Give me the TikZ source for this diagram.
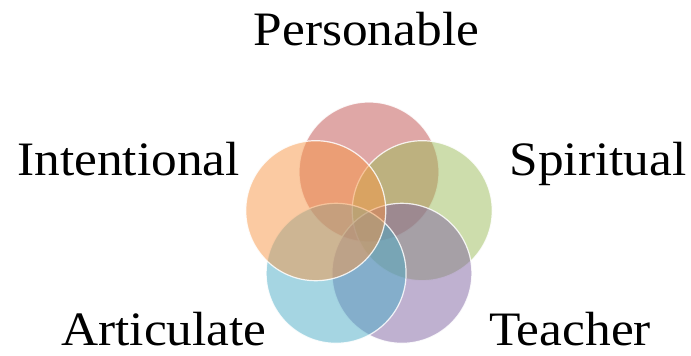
\documentclass[tikz,border=0pt]{standalone}
\usepackage{fontspec}
\setmainfont[FakeStretch=1.07]{Liberation Serif}
\definecolor{vennred}{HTML}{C0504D}
\definecolor{venngreen}{HTML}{9BBB59}
\definecolor{vennpurple}{HTML}{8064A2}
\definecolor{vennblue}{HTML}{4BACC6}
\definecolor{vennorange}{HTML}{F79646}
\tikzset{
  venn/.style={circle, minimum size=140pt, inner sep=0pt, fill=#1,
    fill opacity=.5, draw=white, draw opacity=.85, line width=1.2pt},
  vennlabel/.style={anchor=base, inner sep=0pt, text depth=0pt,
    font=\fontsize{48}{58}\selectfont}
}
\begin{document}
\begin{tikzpicture}[x=1pt,y=-1pt]
\useasboundingbox (0,0) rectangle (691,356);

% five circles round the middle
\begin{scope}[shift={(369,228)},y=1pt]
\foreach \name/\ang/\col in {personable/90/vennred, spiritual/18/venngreen,
    teacher/-54/vennpurple, articulate/-126/vennblue, intentional/162/vennorange}
  \node[venn=\col] (c\name) at (\ang:56) {};
\end{scope}

\node[vennlabel] (personable) at (366.5,45) {Personable};
\node[vennlabel] (intentional) at (128.5,175) {Intentional};
\node[vennlabel] (spiritual) at (598,175) {Spiritual};
\node[vennlabel] (articulate) at (164,345) {Articulate};
\node[vennlabel] (teacher) at (570,345) {Teacher};
\end{tikzpicture}
\end{document}
